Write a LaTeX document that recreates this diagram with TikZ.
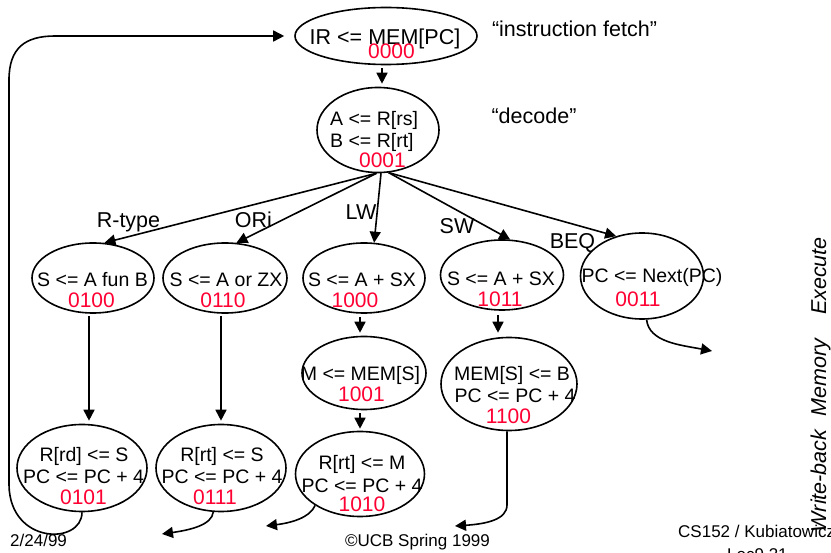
\documentclass[tikz,border=0pt]{standalone}
\usepackage{fontspec}
\setmainfont{Liberation Sans}
\usetikzlibrary{shapes.geometric,arrows.meta}
\definecolor{numred}{RGB}{255,0,51}
\begin{document}
\begin{tikzpicture}[x=1pt,y=-1pt,
  state/.style={draw,ellipse,line width=1.6pt,inner sep=0pt},
  txt/.style={anchor=base,inner sep=0pt,font=\fontsize{19.5}{22}\selectfont},
  num/.style={anchor=base,inner sep=0pt,text=numred,font=\fontsize{21}{24}\selectfont},
  lbl/.style={anchor=base,inner sep=0pt,font=\fontsize{21.5}{24}\selectfont},
  foot/.style={anchor=base,inner sep=0pt,font=\fontsize{17}{20}\selectfont},
  side/.style={anchor=base,inner sep=0pt,rotate=90,font=\fontsize{21.5}{24}\selectfont\itshape},
  arr/.style={line width=1.6pt,-{Triangle[length=11pt,width=11pt]}},
]
\useasboundingbox (0,0) rectangle (831,553);

% states
\node[state,minimum width=182pt,minimum height=57pt] (ir)   at (386,36)  {};
\node[state,minimum width=122pt,minimum height=85pt] (dec)  at (378,130) {};
\node[state,minimum width=122pt,minimum height=70pt] (rt)   at (93,278)  {};
\node[state,minimum width=124pt,minimum height=70pt] (ori)  at (225,278) {};
\node[state,minimum width=122pt,minimum height=70pt] (lw)   at (364,278) {};
\node[state,minimum width=123pt,minimum height=70pt] (sw)   at (502,275) {};
\node[state,minimum width=123pt,minimum height=86pt] (beq)  at (642,276) {};
\node[state,minimum width=124pt,minimum height=73pt] (mld)  at (364,373) {};
\node[state,minimum width=136pt,minimum height=93pt] (mst)  at (509,384) {};
\node[state,minimum width=130pt,minimum height=87pt] (rdwb) at (82,468)  {};
\node[state,minimum width=130pt,minimum height=87pt] (rtwb) at (221,468) {};
\node[state,minimum width=129pt,minimum height=85pt] (ldwb) at (360,474) {};

% state contents
\node[lbl] (irT) at (385,45) {IR <= MEM[PC]};
\node[num] (irN) at (391.5,59) {0000};
\node[txt,anchor=base west] (decA) at (330,126) {A <= R[rs]};
\node[txt,anchor=base west] (decB) at (330,148) {B <= R[rt]};
\node[num] (decN) at (382.5,168) {0001};
\node[txt] (rtT) at (92.5,287) {S <= A fun B};
\node[num] (rtN) at (91.5,308) {0100};
\node[txt] (oriT) at (226,287) {S <= A or ZX};
\node[num] (oriN) at (223,308) {0110};
\node[txt] (lwT) at (362,287) {S <= A + SX};
\node[num] (lwN) at (355,308) {1000};
\node[txt] (swT) at (501,286) {S <= A + SX};
\node[num] (swN) at (500,307) {1011};
\node[txt] (beqT) at (652,283) {PC <= Next(PC)};
\node[num] (beqN) at (638,307) {0011};
\node[txt] (mldT) at (360.5,381) {M <= MEM[S]};
\node[num] (mldN) at (361.5,402) {1001};
\node[txt] (mstA) at (512,381) {MEM[S] <= B};
\node[txt] (mstB) at (515,403) {PC <= PC + 4};
\node[num] (mstN) at (508.5,424) {1100};
\node[txt] (rdwbA) at (84,462) {R[rd] <= S};
\node[txt] (rdwbB) at (83.5,484) {PC <= PC + 4};
\node[num] (rdwbN) at (83.5,505) {0101};
\node[txt] (rtwbA) at (222,462) {R[rt] <= S};
\node[txt] (rtwbB) at (222,484) {PC <= PC + 4};
\node[num] (rtwbN) at (215,505) {0111};
\node[txt] (ldwbA) at (362,470) {R[rt] <= M};
\node[txt] (ldwbB) at (362,493) {PC <= PC + 4};
\node[num] (ldwbN) at (362,512) {1010};

% phase notes
\node[lbl] (fetch) at (574.5,37) {“instruction fetch”};
\node[lbl] (decode) at (534,124) {“decode”};

% branch labels
\node[lbl] (lR)   at (128.5,228) {R-type};
\node[lbl] (lOR)  at (253.5,228) {ORi};
\node[lbl] (lLW)  at (361,220) {LW};
\node[lbl] (lSW)  at (457,234) {SW};
\node[lbl] (lBEQ) at (572.5,249) {BEQ};

% fetch -> decode
\draw[arr] ([xshift=-4pt,yshift=-3pt]ir.south) -- ([xshift=4pt,yshift=3pt]dec.north);

% decode fan-out
\draw[arr] (dec.-92) -- (rt.72);
\draw[arr] (dec.-92) -- (ori.72);
\draw[arr] (dec.-86) -- (lw.74);
\draw[arr] (dec.-76) -- (sw.77);
\draw[arr] (dec.-76) -- (beq.123);

% execute -> memory / write-back
\draw[arr] ([xshift=-4pt,yshift=-2pt]rt.south) -- ([xshift=7pt,yshift=3pt]rdwb.north);
\draw[arr] ([xshift=-4pt,yshift=-2pt]ori.south) -- ([yshift=3pt]rtwb.north);
\draw[arr] ([xshift=-4pt,yshift=-3pt]lw.south) -- ([xshift=-4pt,yshift=3pt]mld.north);
\draw[arr] ([xshift=-4pt,yshift=-3pt]mld.south) -- ([yshift=2pt]ldwb.north);
\draw[arr] ([xshift=-4pt,yshift=-4pt]sw.south) -- ([xshift=-11pt,yshift=4pt]mst.north);

% free ends of the exit arrows
\coordinate (beqEnd) at (712,351);
\coordinate (mstEnd) at (455,526);
\coordinate (ldwbEnd) at (266,526);
\coordinate (rtwbEnd) at (162,534);

\draw[arr] (beq.-84) .. controls (649,342) and (680,345) .. (beqEnd);
\draw[arr] ([xshift=-2pt]mst.south) -- (507,505) .. controls (507,520) and (485,524) .. (mstEnd);
\draw[arr] (ldwb.-145) .. controls (310,518) and (290,523) .. (ldwbEnd);
\draw[arr] (rtwb.-100) .. controls (212,525) and (190,530) .. (rtwbEnd);

% return loop to fetch
\draw[arr] (rdwb.south) .. controls (82,545) and (10,545) .. (9,485) -- (9,80)
  .. controls (9,48) and (25,36) .. (55,36) -- ([xshift=-10pt]ir.west);

% footer
\node[foot,anchor=base west] (date) at (10,547) {2/24/99};
\node[foot] (copy) at (417.5,547) {©UCB Spring 1999};
\node[foot,anchor=base west] (course) at (678,538) {CS152 / Kubiatowicz};
\node[foot,anchor=base west] (lec) at (727,560) {Lec9.31};

% phase column
\node[side] (pEx) at (826,276) {Execute};
\node[side] (pMem) at (826,377.5) {Memory};
\node[side] (pWb) at (826,481) {Write-back};
\end{tikzpicture}
\end{document}
